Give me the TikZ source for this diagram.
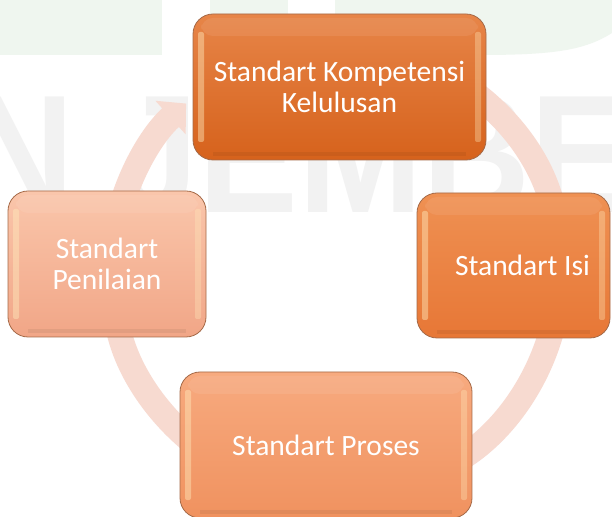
\documentclass[tikz,border=0pt]{standalone}
\usepackage{fontspec}
\setmainfont{Carlito}
\newfontfamily\markfont{Liberation Sans}
\usetikzlibrary{arrows.meta}
\definecolor{ringpink}{HTML}{F7DAD0}
\definecolor{markgray}{HTML}{F2F2F2}
\definecolor{markgreen}{HTML}{EFF6EF}
\definecolor{boxedge}{HTML}{A56A48}
\definecolor{shine}{HTML}{FFE9BC}
\definecolor{komtop}{HTML}{E78548}
\definecolor{kombot}{HTML}{D6621C}
\definecolor{isitop}{HTML}{EF9153}
\definecolor{isibot}{HTML}{E77736}
\definecolor{prostop}{HTML}{F7AA7F}
\definecolor{prosbot}{HTML}{F0925F}
\definecolor{niltop}{HTML}{FAC6AB}
\definecolor{nilbot}{HTML}{F1A687}
\tikzset{
  stdbox/.style={rounded corners=20pt, draw=boxedge, line width=0.8pt, text=white,
    align=center, inner sep=0pt, font=\fontsize{29.5}{31.5}\selectfont,
    path picture={
      \fill[shine, opacity=.45, rounded corners=2pt]
        ([xshift=5pt,yshift=-18pt]path picture bounding box.north west)
        rectangle ([xshift=11pt,yshift=18pt]path picture bounding box.south west);
      \fill[shine, opacity=.35, rounded corners=2pt]
        ([xshift=-5pt,yshift=-18pt]path picture bounding box.north east)
        rectangle ([xshift=-11pt,yshift=18pt]path picture bounding box.south east);
      \fill[white, opacity=.08, rounded corners=12pt]
        ([xshift=8pt,yshift=-4pt]path picture bounding box.north west)
        rectangle ([xshift=-8pt,yshift=-22pt]path picture bounding box.north east);
      \draw[black, opacity=.06, line width=4pt, sharp corners]
        ([xshift=20pt,yshift=6pt]path picture bounding box.south west)
        -- ([xshift=-20pt,yshift=6pt]path picture bounding box.south east);
    }},
  ring/.style={line width=25pt, draw=ringpink, -{Triangle[length=21pt,width=44pt]}},
  wmark/.style={text=markgray, font=\markfont\bfseries\fontsize{168}{168}\selectfont,
    inner sep=0pt, xscale=0.89}
}
\begin{document}
\begin{tikzpicture}[x=1pt,y=1pt]
    \fill[white] (0,0) rectangle (612,516);
    \useasboundingbox (0,0) rectangle (612,516);
    %watermark
    \fill[markgreen] (0,461) rectangle (162,516);
    \fill[markgreen] (210,461) rectangle (288,516);
    \fill[markgreen] (335,516) -- (612,516) -- (612,483)
        .. controls (585,466) and (555,461) .. (480,461) -- (335,461) -- cycle;
    \node[wmark, anchor=base west] (mark) at (-34,303) {N JEMBE};
    %ring
    \coordinate (hub) at (336,246);
    \draw[ring] ([shift={(75:224)}]hub) arc[start angle=75, end angle=8, radius=224];
    \draw[ring] ([shift={(-8:224)}]hub) arc[start angle=-8, end angle=-66, radius=224];
    \draw[ring] ([shift={(-118:224)}]hub) arc[start angle=-118, end angle=-172, radius=224];
    \draw[ring] ([shift={(168:224)}]hub) arc[start angle=168, end angle=132, radius=224];
    %boxes
    \node[stdbox, minimum width=293pt, minimum height=146pt, top color=komtop, bottom color=kombot]
        (kompetensi) at (339.5,429) {Standart Kompetensi\\Kelulusan};
    \node[stdbox, minimum width=193pt, minimum height=145pt, top color=isitop, bottom color=isibot]
        (isi) at (513.5,250.5) {\hspace*{18pt}Standart Isi};
    \node[stdbox, minimum width=292pt, minimum height=146pt, top color=prostop, bottom color=prosbot]
        (proses) at (326,71) {Standart Proses};
    \node[stdbox, minimum width=198pt, minimum height=146pt, top color=niltop, bottom color=nilbot]
        (penilaian) at (107,252) {Standart\\Penilaian};
\end{tikzpicture}
\end{document}
